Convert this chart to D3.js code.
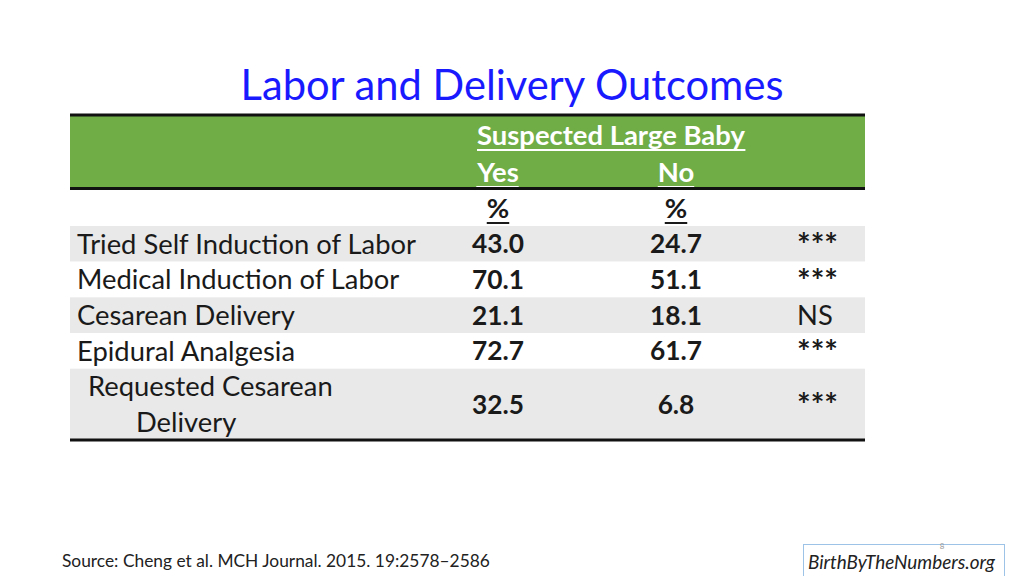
<!DOCTYPE html>
<html>
<head>
<meta charset="utf-8">
<script src="https://cdn.jsdelivr.net/npm/d3@7"></script>
<style>
  html, body { margin: 0; padding: 0; background: #ffffff; }
  svg { display: block; }
</style>
</head>
<body>
<svg id="chart" width="1024" height="576"></svg>
<script>
// ---- data ----
const title = "Labor and Delivery Outcomes";
const groupLabel = "Suspected Large Baby";
const columnLabels = ["Yes", "No"];
const unitLabels = ["%", "%"];
const outcomes = [["Tried Self Induction of Labor"], ["Medical Induction of Labor"], ["Cesarean Delivery"], ["Epidural Analgesia"], ["Requested Cesarean", "Delivery"]];
const yesValues = [43.0, 70.1, 21.1, 72.7, 32.5];
const noValues = [24.7, 51.1, 18.1, 61.7, 6.8];
const significance = ["***", "***", "NS", "***", "***"];
const sourceText = "Source: Cheng et al. MCH Journal. 2015. 19:2578\u20132586";
const siteText = "BirthByTheNumbers.org";
const pageNumber = "8";

// ---- setup ----
const svg = d3.select("#chart");
const FONT = "Lato, 'Open Sans', sans-serif";

function fitSize(txt, target, weight, style) {
  const t = svg.append("text").attr("font-family", FONT).attr("font-size", 100)
    .attr("font-weight", weight || "normal").attr("font-style", style || "normal").text(txt);
  const w = t.node().getComputedTextLength();
  t.remove();
  return 100 * target / w;
}

const titleSize = fitSize(title, 543, "normal");
const labelSize = fitSize(outcomes[0][0], 339, "normal");
const headSize = fitSize(groupLabel, 268, "bold");
const numSize = fitSize("43.0", 52, "bold");
const starSize = fitSize("***", 41, "bold");
const srcSize = fitSize(sourceText, 428, "normal");
const siteSize = fitSize(siteText, 187, "normal", "italic");

// ---- scales ----
const tableLeft = 70, tableRight = 865;
const colX = d3.scaleOrdinal().domain(["label", "yes", "no", "sig"]).range([77, 498, 676, 797]);
const rowUnits = [1, 1, 1, 1, 2];
const rowStart = d3.cumsum([0].concat(rowUnits.slice(0, -1)));
const totalUnits = d3.sum(rowUnits);
const y = d3.scaleLinear().domain([0, totalUnits]).range([226, 440]);

// ---- title ----
svg.append("text").attr("x", 512).attr("y", 100).attr("text-anchor", "middle")
  .attr("font-family", FONT).attr("font-size", titleSize).attr("fill", "#1a1aff")
  .text(title);

// ---- header band ----
svg.append("rect").attr("x", tableLeft).attr("y", 116).attr("width", tableRight - tableLeft).attr("height", 72)
  .attr("fill", "#70ad47");

function underline(sel, color, offset) {
  sel.each(function () {
    const b = this.getBBox();
    const baseY = +d3.select(this).attr("y");
    svg.append("rect").attr("x", b.x).attr("y", baseY + offset).attr("width", b.width).attr("height", 2)
      .attr("fill", color);
  });
}

const g1 = svg.append("text").attr("x", 477).attr("y", 145)
  .attr("font-family", FONT).attr("font-size", headSize).attr("font-weight", "bold").attr("fill", "#ffffff")
  .text(groupLabel);
underline(g1, "#ffffff", 4);

const colKeys = ["yes", "no"];
const hdr = svg.selectAll(".colhdr").data(columnLabels).join("text").attr("class", "colhdr")
  .attr("x", (d, i) => colX(colKeys[i])).attr("y", 182).attr("text-anchor", "middle")
  .attr("font-family", FONT).attr("font-size", headSize).attr("font-weight", "bold").attr("fill", "#ffffff")
  .text(d => d);
underline(hdr, "#ffffff", 4);

const units = svg.selectAll(".unit").data(unitLabels).join("text").attr("class", "unit")
  .attr("x", (d, i) => colX(colKeys[i])).attr("y", 218).attr("text-anchor", "middle")
  .attr("font-family", FONT).attr("font-size", headSize).attr("font-weight", "bold").attr("fill", "#1a1a1a")
  .text(d => d);
underline(units, "#1a1a1a", 4);

// ---- body rows ----
svg.selectAll(".band").data(outcomes).join("rect").attr("class", "band")
  .attr("x", tableLeft).attr("width", tableRight - tableLeft)
  .attr("y", (d, i) => y(rowStart[i]))
  .attr("height", (d, i) => y(rowStart[i] + rowUnits[i]) - y(rowStart[i]))
  .attr("fill", (d, i) => i % 2 === 0 ? "#e9e9e9" : "#ffffff");

function rowMid(i) { return (y(rowStart[i]) + y(rowStart[i] + rowUnits[i])) / 2; }

const lineOffsets = [[0], [0], [0], [0], [-18, 18]];
const lineX = [[0], [0], [0], [0], [11, 59]];
outcomes.forEach((lines, i) => {
  lines.forEach((ln, j) => {
    svg.append("text")
      .attr("x", colX("label") + lineX[i][j])
      .attr("y", rowMid(i) + lineOffsets[i][j] + labelSize * 0.36)
      .attr("font-family", FONT).attr("font-size", labelSize).attr("fill", "#1a1a1a")
      .text(ln);
  });
});

const fmt = d3.format(".1f");
svg.selectAll(".yes").data(yesValues).join("text").attr("class", "yes")
  .attr("x", colX("yes")).attr("y", (d, i) => rowMid(i) + numSize * 0.36).attr("text-anchor", "middle")
  .attr("font-family", FONT).attr("font-size", numSize).attr("font-weight", "bold").attr("fill", "#1a1a1a")
  .text(d => fmt(d));
svg.selectAll(".no").data(noValues).join("text").attr("class", "no")
  .attr("x", colX("no")).attr("y", (d, i) => rowMid(i) + numSize * 0.36).attr("text-anchor", "middle")
  .attr("font-family", FONT).attr("font-size", numSize).attr("font-weight", "bold").attr("fill", "#1a1a1a")
  .text(d => fmt(d));
svg.selectAll(".sig").data(significance).join("text").attr("class", "sig")
  .attr("x", colX("sig"))
  .attr("y", (d, i) => d === "NS" ? rowMid(i) + labelSize * 0.36 : rowMid(i) - 10 + starSize * 0.72)
  .attr("font-family", FONT)
  .attr("font-size", d => d === "NS" ? labelSize : starSize)
  .attr("font-weight", d => d === "NS" ? "normal" : "bold")
  .attr("fill", "#1a1a1a")
  .text(d => d);

// ---- rules ----
[115, 188.5, 440].forEach(ly => {
  svg.append("rect").attr("x", tableLeft).attr("y", ly - 1.5).attr("width", tableRight - tableLeft).attr("height", 3)
    .attr("fill", "#111111");
});

// ---- footer ----
svg.append("text").attr("x", 62).attr("y", 567)
  .attr("font-family", FONT).attr("font-size", srcSize).attr("fill", "#222222").text(sourceText);

svg.append("rect").attr("x", 803.5).attr("y", 544.5).attr("width", 201).attr("height", 33)
  .attr("fill", "#ffffff").attr("stroke", "#9dc3e6").attr("stroke-width", 1);
svg.append("text").attr("x", 808).attr("y", 569)
  .attr("font-family", FONT).attr("font-size", siteSize).attr("font-style", "italic").attr("fill", "#222222")
  .text(siteText);
svg.append("text").attr("x", 942).attr("y", 549).attr("text-anchor", "middle")
  .attr("font-family", FONT).attr("font-size", 8).attr("fill", "#9a9a9a").text(pageNumber);
</script>
</body>
</html>
